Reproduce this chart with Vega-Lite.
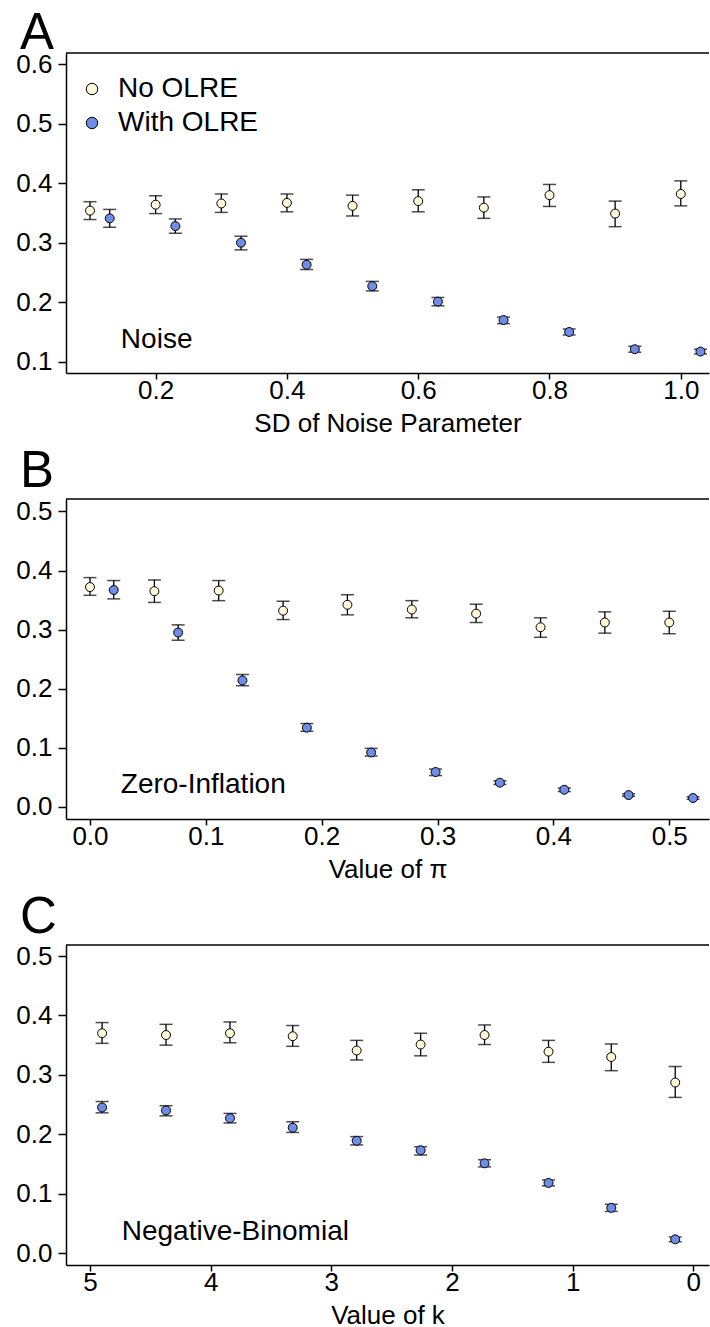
{
  "$schema": "https://vega.github.io/schema/vega-lite/v6.json",
  "background": "white",
  "padding": {"left": 15, "top": 8, "right": 0, "bottom": 0},
  "spacing": 10,
  "config": {
    "font": "Liberation Sans",
    "view": {"stroke": null},
    "axis": {
      "labelFont": "Liberation Sans", "titleFont": "Liberation Sans",
      "labelFontSize": 26, "titleFontSize": 26, "labelColor": "black", "titleColor": "black",
      "titleFontWeight": "normal", "grid": false, "domain": true, "domainColor": "black", "domainWidth": 1.5,
      "tickColor": "black", "tickWidth": 1.5
    },
    "axisX": {"tickSize": 6, "labelPadding": -2, "titlePadding": 7},
    "axisY": {"tickSize": 8, "labelPadding": 6},
    "title": {"font": "Liberation Sans", "fontSize": 51, "fontWeight": "normal", "color": "black", "anchor": "start", "frame": "group", "baseline": "alphabetic", "dx": -46}
  },
  "datasets": {
    "A": [
      {"group": "No OLRE", "x": 0.1, "y": 0.354, "lo": 0.339, "hi": 0.369},
      {"group": "No OLRE", "x": 0.2, "y": 0.364, "lo": 0.349, "hi": 0.379},
      {"group": "No OLRE", "x": 0.3, "y": 0.366, "lo": 0.351, "hi": 0.382},
      {"group": "No OLRE", "x": 0.4, "y": 0.367, "lo": 0.352, "hi": 0.382},
      {"group": "No OLRE", "x": 0.5, "y": 0.362, "lo": 0.345, "hi": 0.380},
      {"group": "No OLRE", "x": 0.6, "y": 0.370, "lo": 0.352, "hi": 0.389},
      {"group": "No OLRE", "x": 0.7, "y": 0.359, "lo": 0.341, "hi": 0.377},
      {"group": "No OLRE", "x": 0.8, "y": 0.380, "lo": 0.361, "hi": 0.398},
      {"group": "No OLRE", "x": 0.9, "y": 0.349, "lo": 0.327, "hi": 0.370},
      {"group": "No OLRE", "x": 1.0, "y": 0.382, "lo": 0.362, "hi": 0.404},
      {"group": "With OLRE", "x": 0.13, "y": 0.341, "lo": 0.326, "hi": 0.356},
      {"group": "With OLRE", "x": 0.23, "y": 0.328, "lo": 0.316, "hi": 0.340},
      {"group": "With OLRE", "x": 0.33, "y": 0.300, "lo": 0.288, "hi": 0.311},
      {"group": "With OLRE", "x": 0.43, "y": 0.263, "lo": 0.255, "hi": 0.272},
      {"group": "With OLRE", "x": 0.53, "y": 0.227, "lo": 0.219, "hi": 0.235},
      {"group": "With OLRE", "x": 0.63, "y": 0.201, "lo": 0.194, "hi": 0.208},
      {"group": "With OLRE", "x": 0.73, "y": 0.170, "lo": 0.164, "hi": 0.175},
      {"group": "With OLRE", "x": 0.83, "y": 0.150, "lo": 0.145, "hi": 0.155},
      {"group": "With OLRE", "x": 0.93, "y": 0.121, "lo": 0.116, "hi": 0.126},
      {"group": "With OLRE", "x": 1.03, "y": 0.117, "lo": 0.113, "hi": 0.121}
    ],
    "B": [
      {"group": "No OLRE", "x": 0.0, "y": 0.372, "lo": 0.358, "hi": 0.388},
      {"group": "No OLRE", "x": 0.0556, "y": 0.365, "lo": 0.346, "hi": 0.384},
      {"group": "No OLRE", "x": 0.1111, "y": 0.366, "lo": 0.349, "hi": 0.383},
      {"group": "No OLRE", "x": 0.1667, "y": 0.332, "lo": 0.317, "hi": 0.348},
      {"group": "No OLRE", "x": 0.2222, "y": 0.342, "lo": 0.325, "hi": 0.359},
      {"group": "No OLRE", "x": 0.2778, "y": 0.334, "lo": 0.320, "hi": 0.349},
      {"group": "No OLRE", "x": 0.3333, "y": 0.327, "lo": 0.312, "hi": 0.343},
      {"group": "No OLRE", "x": 0.3889, "y": 0.304, "lo": 0.287, "hi": 0.320},
      {"group": "No OLRE", "x": 0.4444, "y": 0.312, "lo": 0.294, "hi": 0.330},
      {"group": "No OLRE", "x": 0.5, "y": 0.312, "lo": 0.293, "hi": 0.331},
      {"group": "With OLRE", "x": 0.0205, "y": 0.367, "lo": 0.352, "hi": 0.383},
      {"group": "With OLRE", "x": 0.0761, "y": 0.295, "lo": 0.282, "hi": 0.308},
      {"group": "With OLRE", "x": 0.1316, "y": 0.214, "lo": 0.205, "hi": 0.224},
      {"group": "With OLRE", "x": 0.1872, "y": 0.134, "lo": 0.128, "hi": 0.141},
      {"group": "With OLRE", "x": 0.2427, "y": 0.092, "lo": 0.086, "hi": 0.099},
      {"group": "With OLRE", "x": 0.2983, "y": 0.059, "lo": 0.053, "hi": 0.064},
      {"group": "With OLRE", "x": 0.3538, "y": 0.041, "lo": 0.038, "hi": 0.044},
      {"group": "With OLRE", "x": 0.4094, "y": 0.029, "lo": 0.026, "hi": 0.032},
      {"group": "With OLRE", "x": 0.4649, "y": 0.020, "lo": 0.018, "hi": 0.022},
      {"group": "With OLRE", "x": 0.5205, "y": 0.015, "lo": 0.013, "hi": 0.017}
    ],
    "C": [
      {"group": "No OLRE", "x": 4.9, "y": 0.370, "lo": 0.353, "hi": 0.388},
      {"group": "No OLRE", "x": 4.37, "y": 0.367, "lo": 0.350, "hi": 0.385},
      {"group": "No OLRE", "x": 3.84, "y": 0.370, "lo": 0.354, "hi": 0.389},
      {"group": "No OLRE", "x": 3.32, "y": 0.365, "lo": 0.348, "hi": 0.383},
      {"group": "No OLRE", "x": 2.79, "y": 0.341, "lo": 0.325, "hi": 0.358},
      {"group": "No OLRE", "x": 2.26, "y": 0.351, "lo": 0.332, "hi": 0.370},
      {"group": "No OLRE", "x": 1.73, "y": 0.367, "lo": 0.351, "hi": 0.384},
      {"group": "No OLRE", "x": 1.2, "y": 0.339, "lo": 0.321, "hi": 0.358},
      {"group": "No OLRE", "x": 0.68, "y": 0.330, "lo": 0.307, "hi": 0.352},
      {"group": "No OLRE", "x": 0.15, "y": 0.287, "lo": 0.262, "hi": 0.314},
      {"group": "With OLRE", "x": 4.9, "y": 0.245, "lo": 0.236, "hi": 0.255},
      {"group": "With OLRE", "x": 4.37, "y": 0.240, "lo": 0.231, "hi": 0.248},
      {"group": "With OLRE", "x": 3.84, "y": 0.227, "lo": 0.219, "hi": 0.235},
      {"group": "With OLRE", "x": 3.32, "y": 0.211, "lo": 0.203, "hi": 0.221},
      {"group": "With OLRE", "x": 2.79, "y": 0.189, "lo": 0.182, "hi": 0.196},
      {"group": "With OLRE", "x": 2.26, "y": 0.173, "lo": 0.165, "hi": 0.179},
      {"group": "With OLRE", "x": 1.73, "y": 0.151, "lo": 0.145, "hi": 0.157},
      {"group": "With OLRE", "x": 1.2, "y": 0.118, "lo": 0.113, "hi": 0.123},
      {"group": "With OLRE", "x": 0.68, "y": 0.076, "lo": 0.070, "hi": 0.082},
      {"group": "With OLRE", "x": 0.15, "y": 0.023, "lo": 0.019, "hi": 0.027}
    ],
    "labels": [
      {"panel": "A", "label": "Noise", "x": 0.147, "y": 0.1236},
      {"panel": "B", "label": "Zero-Inflation", "x": 0.0266, "y": 0.0236},
      {"panel": "C", "label": "Negative-Binomial", "x": 4.737, "y": 0.0225}
    ]
  },
  "resolve": {"legend": {"color": "independent", "fill": "independent"}, "scale": {"x": "independent", "y": "independent"}},
  "vconcat": [
    {
      "title": {"text": "A", "offset": -9},
      "width": 643, "height": 320,
      "encoding": {
        "x": {"field": "x", "type": "quantitative", "title": "SD of Noise Parameter",
              "scale": {"domain": [0.0634, 1.043], "nice": false, "zero": false},
              "axis": {"values": [0.2, 0.4, 0.6, 0.8, 1.0], "format": ".1f", "title": "SD of Noise Parameter"}}
      },
      "layer": [
        {
          "data": {"values": [{"top": 0.619}]},
          "mark": {"type": "rule", "color": "black", "strokeWidth": 1.5},
          "encoding": {"x": null, "y": {"field": "top", "type": "quantitative", "title": null, "scale": {"domain": [0.081, 0.619], "nice": false, "zero": false}, "axis": {"values": [0.1, 0.2, 0.3, 0.4, 0.5, 0.6], "format": ".1f", "title": null}}}
        },
        {
          "data": {"name": "A"},
          "mark": {"type": "errorbar", "ticks": {"size": 13, "thickness": 1.5, "color": "black"}, "rule": {"strokeWidth": 1.3, "color": "black"}},
          "encoding": {
            "y": {"field": "lo", "type": "quantitative", "title": null},
            "y2": {"field": "hi"}
          }
        },
        {
          "data": {"name": "A"},
          "mark": {"type": "point", "filled": true, "shape": "circle", "size": 80, "stroke": "black", "strokeWidth": 1, "opacity": 1},
          "encoding": {
            "y": {"field": "y", "type": "quantitative", "title": null},
            "fill": {"field": "group", "type": "nominal",
                     "scale": {"domain": ["No OLRE", "With OLRE"], "range": ["#FFFBDA", "#6E8CE8"]},
                     "legend": {"title": null, "orient": "none", "legendX": 12, "legendY": 22, "padding": 0,
                                "labelFontSize": 28, "labelFont": "Liberation Sans", "labelColor": "black",
                                "symbolSize": 130, "symbolType": "circle", "symbolStrokeColor": "black", "symbolStrokeWidth": 1,
                                "labelOffset": 12, "rowPadding": 6}}
          }
        },
        {
          "data": {"name": "labels"},
          "transform": [{"filter": "datum.panel == 'A'"}],
          "mark": {"type": "text", "align": "left", "baseline": "alphabetic", "fontSize": 28, "font": "Liberation Sans", "color": "black"},
          "encoding": {
            "y": {"field": "y", "type": "quantitative", "title": null},
            "text": {"field": "label"}
          }
        }
      ]
    },
    {
      "title": {"text": "B", "offset": 0},
      "width": 643, "height": 320,
      "encoding": {
        "x": {"field": "x", "type": "quantitative", "title": "Value of π",
              "scale": {"domain": [-0.0207, 0.5343], "nice": false, "zero": false},
              "axis": {"values": [0, 0.1, 0.2, 0.3, 0.4, 0.5], "format": ".1f", "title": "Value of π"}}
      },
      "layer": [
        {
          "data": {"values": [{"top": 0.521}]},
          "mark": {"type": "rule", "color": "black", "strokeWidth": 1.5},
          "encoding": {"x": null, "y": {"field": "top", "type": "quantitative", "title": null, "scale": {"domain": [-0.0205, 0.521], "nice": false, "zero": false}, "axis": {"values": [0, 0.1, 0.2, 0.3, 0.4, 0.5], "format": ".1f", "title": null}}}
        },
        {
          "data": {"name": "B"},
          "mark": {"type": "errorbar", "ticks": {"size": 13, "thickness": 1.5, "color": "black"}, "rule": {"strokeWidth": 1.3, "color": "black"}},
          "encoding": {
            "y": {"field": "lo", "type": "quantitative", "title": null},
            "y2": {"field": "hi"}
          }
        },
        {
          "data": {"name": "B"},
          "mark": {"type": "point", "filled": true, "shape": "circle", "size": 80, "stroke": "black", "strokeWidth": 1, "opacity": 1},
          "encoding": {
            "y": {"field": "y", "type": "quantitative", "title": null},
            "fill": {"field": "group", "type": "nominal",
                     "scale": {"domain": ["No OLRE", "With OLRE"], "range": ["#FFFBDA", "#6E8CE8"]},
                     "legend": null}
          }
        },
        {
          "data": {"name": "labels"},
          "transform": [{"filter": "datum.panel == 'B'"}],
          "mark": {"type": "text", "align": "left", "baseline": "alphabetic", "fontSize": 28, "font": "Liberation Sans", "color": "black"},
          "encoding": {
            "y": {"field": "y", "type": "quantitative", "title": null},
            "text": {"field": "label"}
          }
        }
      ]
    },
    {
      "title": {"text": "C", "offset": -1},
      "width": 643, "height": 320,
      "encoding": {
        "x": {"field": "x", "type": "quantitative", "title": "Value of k",
              "scale": {"domain": [-0.13, 5.199], "reverse": true, "nice": false, "zero": false},
              "axis": {"values": [0, 1, 2, 3, 4, 5], "format": "d", "title": "Value of k"}}
      },
      "layer": [
        {
          "data": {"values": [{"top": 0.5186}]},
          "mark": {"type": "rule", "color": "black", "strokeWidth": 1.5},
          "encoding": {"x": null, "y": {"field": "top", "type": "quantitative", "title": null, "scale": {"domain": [-0.0202, 0.5186], "nice": false, "zero": false}, "axis": {"values": [0, 0.1, 0.2, 0.3, 0.4, 0.5], "format": ".1f", "title": null}}}
        },
        {
          "data": {"name": "C"},
          "mark": {"type": "errorbar", "ticks": {"size": 13, "thickness": 1.5, "color": "black"}, "rule": {"strokeWidth": 1.3, "color": "black"}},
          "encoding": {
            "y": {"field": "lo", "type": "quantitative", "title": null},
            "y2": {"field": "hi"}
          }
        },
        {
          "data": {"name": "C"},
          "mark": {"type": "point", "filled": true, "shape": "circle", "size": 80, "stroke": "black", "strokeWidth": 1, "opacity": 1},
          "encoding": {
            "y": {"field": "y", "type": "quantitative", "title": null},
            "fill": {"field": "group", "type": "nominal",
                     "scale": {"domain": ["No OLRE", "With OLRE"], "range": ["#FFFBDA", "#6E8CE8"]},
                     "legend": null}
          }
        },
        {
          "data": {"name": "labels"},
          "transform": [{"filter": "datum.panel == 'C'"}],
          "mark": {"type": "text", "align": "left", "baseline": "alphabetic", "fontSize": 28, "font": "Liberation Sans", "color": "black"},
          "encoding": {
            "y": {"field": "y", "type": "quantitative", "title": null},
            "text": {"field": "label"}
          }
        }
      ]
    }
  ]
}
